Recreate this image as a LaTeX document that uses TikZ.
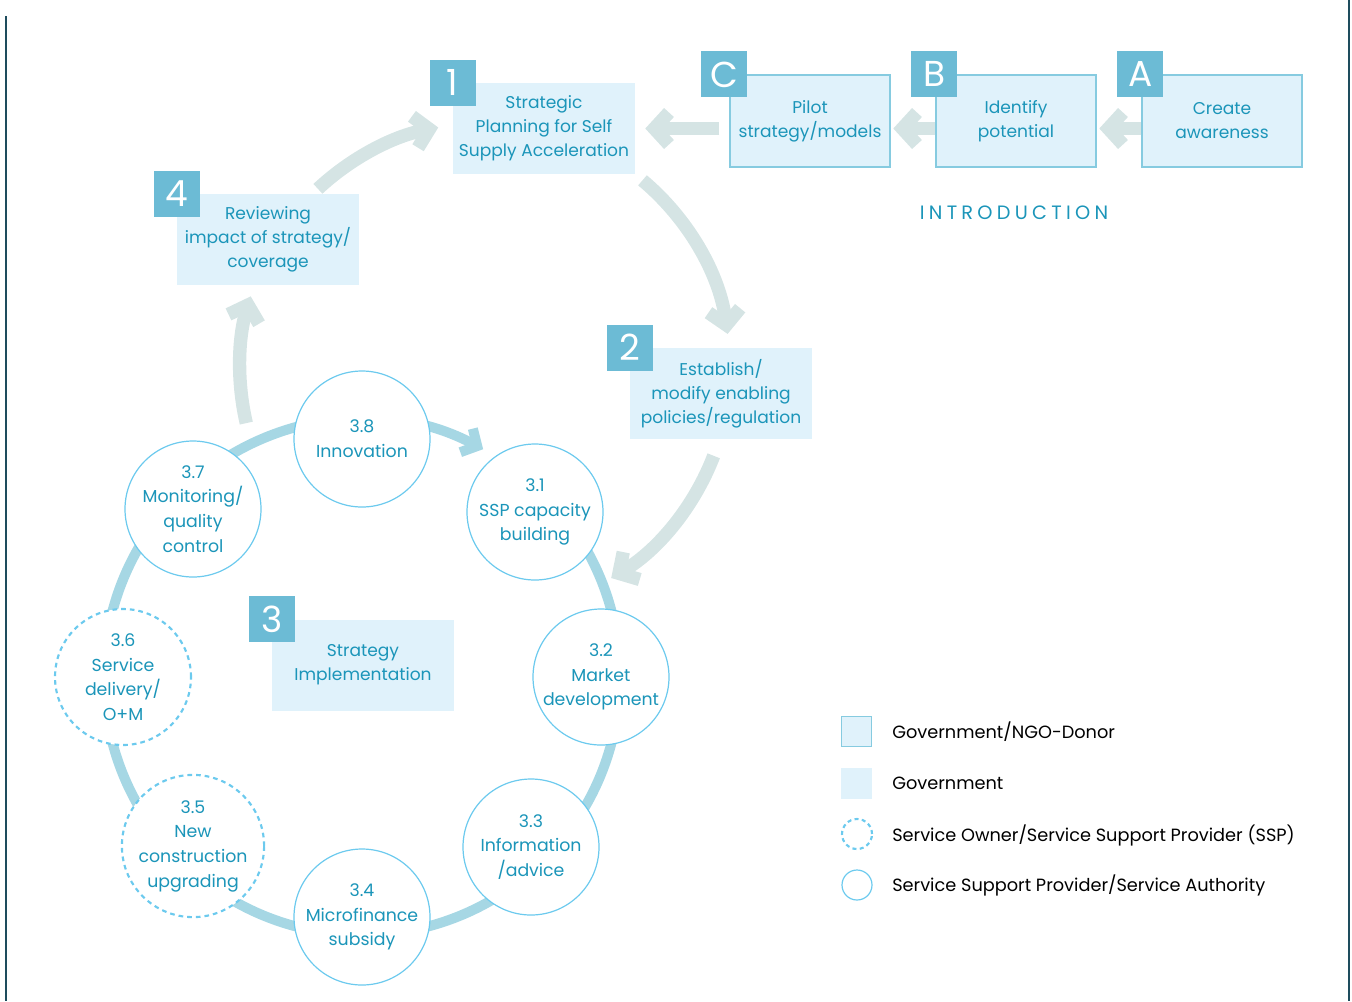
\documentclass[tikz,border=0pt]{standalone}
\usepackage{fontspec}
\setmainfont{Poppins}
\usetikzlibrary{arrows.meta,calc}
\definecolor{tealtext}{HTML}{1B95B9}
\definecolor{boxfill}{HTML}{E0F2FB}
\definecolor{numfill}{HTML}{6CBBD5}
\definecolor{boxline}{HTML}{86CBE0}
\definecolor{grayarrow}{HTML}{D5E4E4}
\definecolor{ringblue}{HTML}{A6D7E4}
\definecolor{circline}{HTML}{6CCAEE}
\definecolor{frameline}{HTML}{1E4C5D}
\newcommand{\boxfont}{\fontsize{12.8}{18}\selectfont}
\newcommand{\circfont}{\fontsize{13}{18.5}\selectfont}
\newcommand{\numfont}{\fontsize{27}{30}\selectfont}
\newcommand{\legfont}{\fontsize{13.3}{16}\selectfont}
\tikzset{
  govbox/.style={fill=boxfill, minimum width=136.5pt, minimum height=68.25pt, inner sep=0pt,
    align=center, text=tealtext, font=\boxfont},
  introbox/.style={govbox, draw=boxline, line width=0.9pt, minimum width=120pt, minimum height=69pt},
  numbox/.style={fill=numfill, minimum size=34.5pt, inner sep=0pt, text=white, font=\numfont},
  stepcirc/.style={circle, draw=circline, line width=0.9pt, fill=white, minimum size=102pt,
    inner sep=0pt, align=center, text=tealtext, font=\circfont},
  ssp/.style={stepcirc, line width=1.6pt, dash pattern=on 3.5pt off 3pt},
  bigarrow/.style={draw=grayarrow, line width=10pt,
    -{Straight Barb[length=11pt, width=24pt, line cap=butt, line join=miter]}},
  ringarrow/.style={draw=ringblue, line width=7.5pt,
    -{Straight Barb[length=9pt, width=20pt, line cap=butt, line join=miter]}},
  legtext/.style={anchor=west, inner sep=0pt, font=\legfont, text=black},
}
\begin{document}
\begin{tikzpicture}[x=0.75pt, y=0.75pt]
\useasboundingbox (0,0) rectangle (1352,-1001);
% frame lines
\draw[frameline, line width=1.5pt] (6,-16) -- (6,-1001);
\draw[frameline, line width=1.5pt] (1349,0) -- (1349,-1001);

% centres
\coordinate (bigc) at (485,-368);
\coordinate (ringc) at (362,-677);

% big outer cycle arcs
\draw[bigarrow] ([shift={(133:245)}]bigc) arc[start angle=133, end angle=101, radius=245];
\draw[bigarrow] ([shift={(50:245)}]bigc) arc[start angle=50, end angle=8, radius=245];
\draw[bigarrow] ([shift={(-21:245)}]bigc) arc[start angle=-21, end angle=-59, radius=245];
\draw[bigarrow] ([shift={(193:245)}]bigc) arc[start angle=193, end angle=163, radius=245];

% ring
\draw[ringarrow] ([shift={(45:258)}]ringc) arc[start angle=45, end angle=-298, radius=258];

% main boxes
\node[govbox] (b1) at (544,-128.5) {Strategic\\Planning for Self\\Supply Acceleration};
\node[numbox] at (b1.north west) (n1) {1};
\node[govbox] (b4) at (268,-239.5) {Reviewing\\impact of strategy/\\coverage};
\node[numbox] at (b4.north west) (n4) {4};
\node[govbox] (b2) at (721,-393.5) {Establish/\\modify enabling\\policies/regulation};
\node[numbox] at (b2.north west) (n2) {2};
\node[govbox] (b3) at (363,-665) {Strategy\\Implementation};
\node[numbox] at (b3.north west) (n3) {3};

% intro boxes
\node[introbox] (bC) at (810,-121) {Pilot\\strategy/models};
\node[numbox] at ([xshift=-3.75pt]bC.north west) (nC) {C};
\node[introbox] (bB) at (1016,-121) {Identify\\potential};
\node[numbox] at ([xshift=-0.75pt]bB.north west) (nB) {B};
\node[introbox] (bA) at (1222,-121) {Create\\awareness};
\node[numbox] at ([xshift=-0.75pt]bA.north west) (nA) {A};
\node[text=tealtext, font=\fontsize{14.5}{16}\selectfont\addfontfeature{LetterSpace=22}] (intro) at (1014,-213) {INTRODUCTION};

% intro arrows
\draw[bigarrow, shorten <=7.5pt, shorten >=7.5pt] (bC.west |- b1.east) -- (b1.east);
\draw[bigarrow, shorten >=2pt] (bB.west |- b1.east) -- (bC.east |- b1.east);
\draw[bigarrow, shorten >=2pt] (bA.west |- b1.east) -- (bB.east |- b1.east);

% step circles
\node[stepcirc] (c38) at (362,-439) {3.8\\Innovation};
\node[stepcirc] (c31) at (535,-512) {3.1\\SSP capacity\\building};
\node[stepcirc] (c32) at (601,-677) {3.2\\Market\\development};
\node[stepcirc] (c33) at (531,-847) {3.3\\Information\\/advice};
\node[stepcirc] (c34) at (362,-917) {3.4\\Microfinance\\subsidy};
\node[ssp] (c35) at (193,-846) {3.5\\New\\construction\\upgrading};
\node[ssp] (c36) at (123,-677) {3.6\\Service\\delivery/\\O+M};
\node[stepcirc] (c37) at (193,-509) {3.7\\Monitoring/\\quality\\control};

% legend
\node[fill=boxfill, draw=boxline, line width=0.9pt, minimum size=23pt, inner sep=0pt] (lg1) at (856.5,-731.5) {};
\node[legtext] (lt1) at (892,-732) {Government/NGO-Donor};
\node[fill=boxfill, minimum size=23.25pt, inner sep=0pt] (lg2) at (856.5,-783.5) {};
\node[legtext] (lt2) at (892,-783) {Government};
\node[circle, draw=circline, line width=1.6pt, dash pattern=on 3pt off 2.5pt, minimum size=22.5pt, inner sep=0pt] (lg3) at (857,-834) {};
\node[legtext] (lt3) at (892,-835) {Service Owner/Service Support Provider (SSP)};
\node[circle, draw=circline, line width=0.9pt, minimum size=22.5pt, inner sep=0pt] (lg4) at (857,-885) {};
\node[legtext] (lt4) at (892,-885) {Service Support Provider/Service Authority};
\end{tikzpicture}
\end{document}
